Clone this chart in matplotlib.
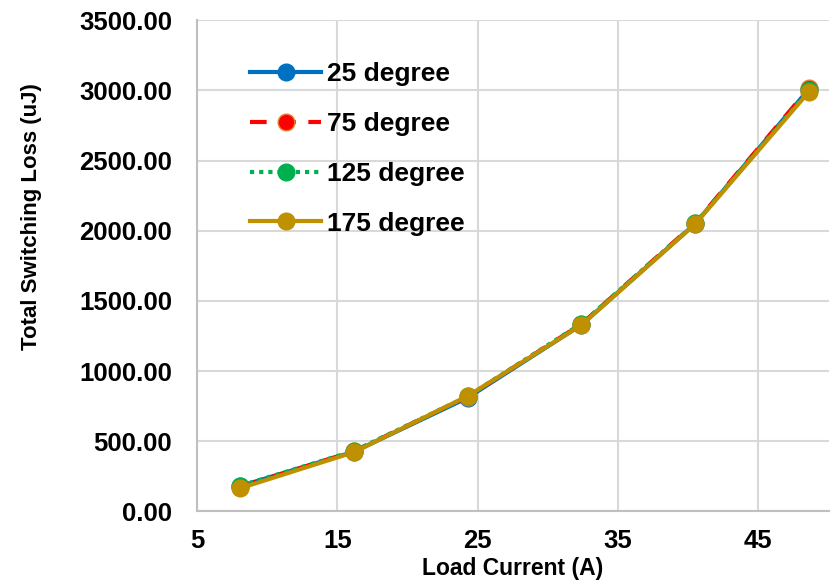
import matplotlib.pyplot as plt
from matplotlib.ticker import FormatStrFormatter

plt.rcParams["font.family"] = ["Liberation Sans", "DejaVu Sans"]
plt.rcParams["font.weight"] = "bold"

# Data
current = [8.1, 16.2, 24.3, 32.4, 40.5, 48.6]
loss_25 = [180, 425, 810, 1330, 2050, 3010]
loss_75 = [175, 428, 818, 1335, 2055, 3015]
loss_125 = [182, 430, 820, 1338, 2052, 3000]
loss_175 = [165, 422, 822, 1328, 2048, 2990]
labels = ["25 degree", "75 degree", "125 degree", "175 degree"]

fig = plt.figure(figsize=(8.31, 5.81), dpi=100)
ax = fig.add_axes([0.237, 0.12, 0.76, 0.845])

ax.plot(current, loss_25, color="#0070C0", lw=3, marker="o", ms=12,
        label=labels[0], zorder=3)
ax.plot(current, loss_75, color="#FF0000", lw=3, ls=(0, (4, 3)), marker="o", ms=12,
        mfc="#FF0000", mec="#ED7D31", label=labels[1], zorder=3)
ax.plot(current, loss_125, color="#00B050", lw=3, ls=(0, (1, 1.2)), marker="o", ms=12,
        label=labels[2], zorder=3)
ax.plot(current, loss_175, color="#BF9000", lw=3, marker="o", ms=12,
        label=labels[3], zorder=3)

ax.set_xlim(5, 50)
ax.set_ylim(0, 3500)
ax.set_xticks([5, 15, 25, 35, 45])
ax.set_yticks(range(0, 3501, 500))
ax.yaxis.set_major_formatter(FormatStrFormatter("%.2f"))
ax.grid(color="#D9D9D9", lw=1.5, zorder=0)
ax.set_axisbelow(True)
for s in ["top", "right"]:
    ax.spines[s].set_visible(False)
for s in ["left", "bottom"]:
    ax.spines[s].set_color("#BFBFBF")
    ax.spines[s].set_linewidth(1.5)
ax.tick_params(length=0, labelsize=18.5)
ax.tick_params(axis="y", pad=18)
ax.tick_params(axis="x", pad=13)
for t in ax.get_xticklabels() + ax.get_yticklabels():
    t.set_fontweight("bold")

ax.set_xlabel("Load Current (A)", fontsize=16.5, fontweight="bold", labelpad=2.5)
ax.set_ylabel("Total Switching Loss (uJ)", fontsize=16, fontweight="bold")
ax.yaxis.set_label_coords(-0.245, 0.60)

leg = ax.legend(loc="upper left", bbox_to_anchor=(0.084, 0.915), frameon=False,
                prop={"size": 19, "weight": "bold"}, handlelength=2.7,
                handletextpad=0.2, labelspacing=0.98, borderpad=0, borderaxespad=0)

fig.savefig("out.png", dpi=100)
